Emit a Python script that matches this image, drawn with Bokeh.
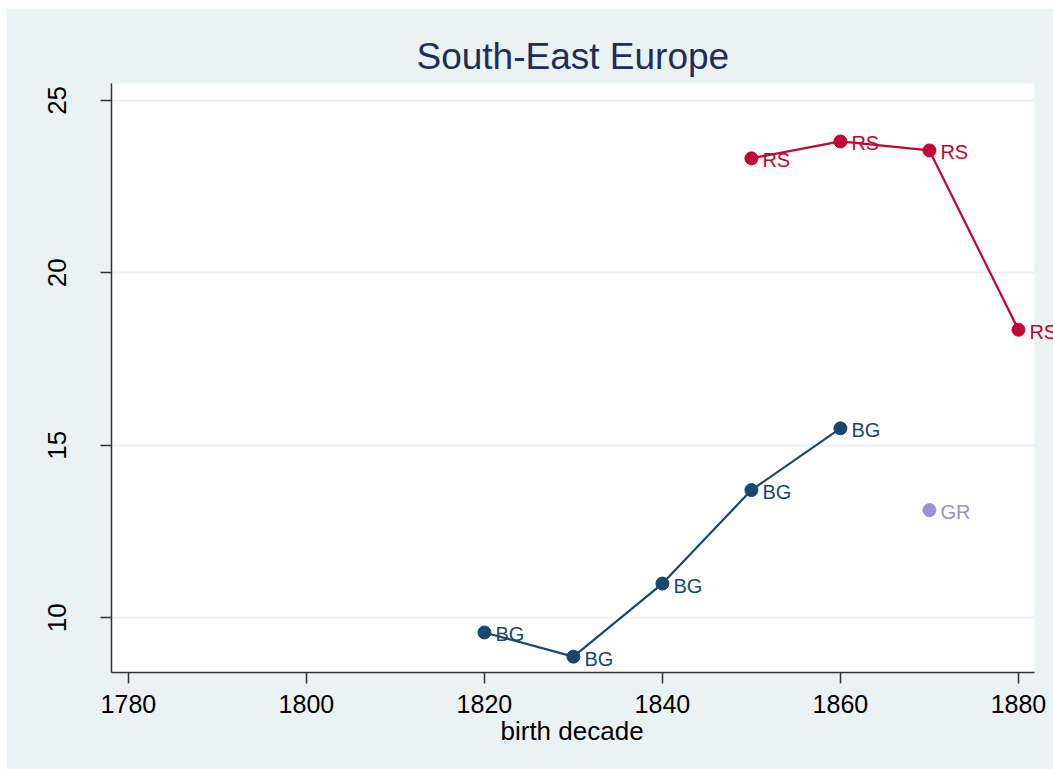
from bokeh.plotting import figure
from bokeh.models import ColumnDataSource, Range1d, FixedTicker, Title, LabelSet, BoxAnnotation
from bokeh.core.properties import value
from bokeh.embed import file_html
from bokeh.resources import INLINE

# Data
bg_decade = [1820, 1830, 1840, 1850, 1860]
bg_value = [9.57, 8.87, 10.99, 13.70, 15.49]
rs_decade = [1850, 1860, 1870, 1880]
rs_value = [23.32, 23.81, 23.55, 18.35]
gr_decade = [1870]
gr_value = [13.12]
x_ticks = [1780, 1800, 1820, 1840, 1860, 1880]
y_ticks = [10, 15, 20, 25]

X_LO, X_HI = 1778.1, 1881.8      # plot-region extent
X_VIEW_HI = 1883.94              # frame extends into the margin so labels are not clipped
Y_LO, Y_HI = 8.41, 25.49

BG_COL = "#1a476f"
RS_COL = "#c10534"
GR_COL = "#9b8fd6"
BG = "#eaf2f3"
FONT = "Liberation Sans"

p = figure(width=1047, height=761, output_backend="svg", toolbar_location=None,
           x_range=Range1d(X_LO, X_VIEW_HI), y_range=Range1d(Y_LO, Y_HI),
           min_border_left=105, min_border_right=0, min_border_top=75,
           min_border_bottom=97, margin=(8, 0, 0, 6))
p.background_fill_color = BG
p.border_fill_color = BG
p.outline_line_color = None

# white plotting region
p.add_layout(BoxAnnotation(left=X_LO, right=X_HI, fill_color="white", fill_alpha=1,
                           line_color=None, level="image"))

p.title = Title(text="South-East Europe", align="left", offset=305, text_font=FONT,
                text_font_size="37px", text_color="#1f2d5c", text_font_style="normal",
                standoff=13)

# axes
p.xaxis.ticker = FixedTicker(ticks=x_ticks)
p.yaxis.ticker = FixedTicker(ticks=y_ticks)
p.xaxis.bounds = (X_LO, X_HI)
for ax in (p.xaxis[0], p.yaxis[0]):
    ax.axis_line_color = "#333333"
    ax.axis_line_width = 1.5
    ax.major_tick_line_color = "#333333"
    ax.major_tick_line_width = 1.5
    ax.major_tick_out = 11
    ax.major_tick_in = 0
    ax.minor_tick_line_color = None
    ax.major_label_text_font = FONT
    ax.major_label_text_font_size = "25px"
    ax.major_label_text_color = "black"
p.xaxis.major_label_standoff = 11
p.yaxis.major_label_orientation = "vertical"
p.yaxis.major_label_text_font_size = "26px"
p.yaxis.major_label_standoff = 34

# x-axis title, centred under the white plotting region
p.add_layout(Title(text="birth decade", align="left", offset=389, text_font=FONT,
                   text_font_size="26px", text_font_style="normal", text_color="black",
                   standoff=-4), "below")

p.xgrid.grid_line_color = None
p.ygrid.grid_line_color = BG
p.ygrid.grid_line_width = 2

bg_src = ColumnDataSource(dict(x=bg_decade, y=bg_value, t=["BG"] * len(bg_decade)))
rs_src = ColumnDataSource(dict(x=rs_decade, y=rs_value, t=["RS"] * len(rs_decade)))
gr_src = ColumnDataSource(dict(x=gr_decade, y=gr_value, t=["GR"] * len(gr_decade)))

for src, col, connect in ((bg_src, BG_COL, True), (rs_src, RS_COL, True), (gr_src, GR_COL, False)):
    if connect:
        p.line("x", "y", source=src, line_color=col, line_width=2.2)
    p.scatter("x", "y", source=src, size=13, fill_color=col, line_color=col)
    p.add_layout(LabelSet(x="x", y="y", text="t", source=src, text_color=col,
                          text_font=value(FONT), text_font_size="20px",
                          text_baseline="middle", text_align="left",
                          x_offset=11, y_offset=-2))

open("out.html", "w").write(file_html(p, INLINE))
